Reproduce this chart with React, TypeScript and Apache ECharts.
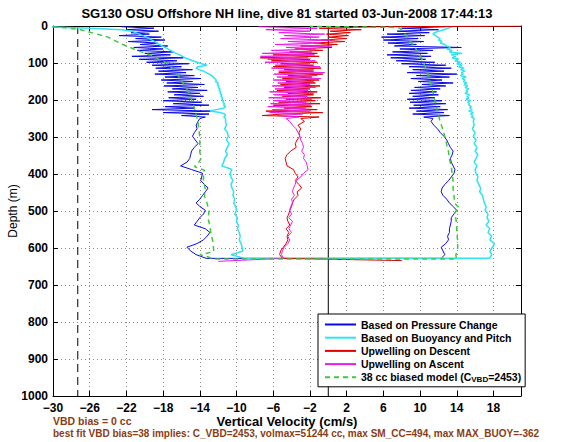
import React, { useEffect, useRef } from 'react';
import * as echarts from 'echarts';

const FONT = '"Liberation Sans", Arial, Helvetica, sans-serif';

const titleText = 'SG130 OSU Offshore NH line, dive 81 started 03-Jun-2008 17:44:13';
const xName = 'Vertical Velocity (cm/s)';
const yName = 'Depth (m)';
const note1 = 'VBD bias = 0 cc';
const note2 = 'best fit VBD bias=38 implies: C_VBD=2453, volmax=51244 cc, max SM_CC=494, max MAX_BUOY=-362';

const nameBlue = 'Based on Pressure Change';
const nameCyan = 'Based on Buoyancy and Pitch';
const nameRed = 'Upwelling on Descent';
const nameMag = 'Upwelling on Ascent';
const nameModel = '38 cc biased model (CVBD=2453)';

const xTicksMin = -30;
const xMax = 21;
const xInterval = 4;
const yMin = 0;
const yMax = 1000;
const yInterval = 100;

const vbdLimitVel = -27.3;
const zeroVel = 0;

// depth grids (m)
const noisyDepths = [2, 6, 10, 14, 18, 22, 26, 30, 34, 38, 42, 46, 50, 54, 58, 62, 66, 70, 74, 78, 82, 86, 90, 94, 98, 102, 106, 110, 114, 118, 122, 126, 130, 134, 138, 142, 146, 150, 154, 158, 162, 166, 170, 174, 178, 182, 186, 190, 194, 198, 202, 206, 210, 214, 218, 222, 226, 230, 234, 238, 242, 246, 250];
const smoothDepths = [258, 268, 278, 288, 298, 308, 318, 328, 338, 348, 358, 368, 378, 388, 398, 408, 418, 428, 438, 448, 458, 468, 478, 488, 498, 508, 518, 528, 538, 548, 558, 568, 578, 588, 598, 608, 618, 628];

// Based on Pressure Change
const blueDescTop = [-22.5, -19.0, -22.0, -18.5, -21.5, -19.5, -22.8, -18.2, -21.0, -17.8,
  -21.8, -18.6, -20.5, -17.5, -21.2, -18.0, -20.8, -16.9, -20.0, -17.2,
  -21.4, -15.8, -20.6, -16.5, -19.8, -15.2, -19.2, -16.0, -18.8, -14.8,
  -18.5, -15.5, -18.9, -14.6, -17.8, -13.9, -18.2, -14.8, -17.6, -13.5,
  -17.9, -14.2, -17.0, -13.2, -17.5, -14.0, -16.8, -13.6, -17.4, -14.4,
  -18.0, -13.8, -16.9, -13.0, -17.8, -14.6, -19.2, -12.6, -18.0, -13.0,
  -16.0, -13.4, -14.0];
const blueDescDeep = [-14.2, -14.4, -14.3, -14.6, -14.8, -14.5, -14.2, -14.6, -14.9, -15.0,
  -15.1, -15.4, -16.1, -14.9, -13.7, -13.8, -13.9, -13.5, -13.1, -13.4,
  -13.7, -14.0, -14.4, -14.0, -13.4, -13.6, -14.0, -14.3, -14.6, -13.4,
  -12.9, -13.2, -13.6, -14.3, -15.4, -15.0, -14.4, -13.3];
const blueAscDeep = [11.2, 11.5, 11.9, 12.2, 12.6, 12.9, 13.1, 13.3, 13.6, 13.5,
  13.3, 13.4, 13.6, 13.8, 13.7, 13.4, 13.1, 12.7, 12.4, 12.3,
  12.5, 12.9, 13.2, 13.6, 14.0, 13.7, 13.4, 13.4, 13.3, 13.2,
  13.2, 13.0, 13.1, 12.8, 12.3, 12.5, 12.7, 12.3];
const blueAscTop = [12.8, 8.0, 12.0, 7.5, 11.0, 6.4, 10.5, 5.8, 9.8, 6.0,
  10.4, 6.5, 9.6, 7.2, 14.5, 7.8, 11.4, 7.0, 10.8, 6.4,
  11.2, 6.8, 10.6, 7.4, 11.6, 8.0, 12.8, 8.8, 13.4, 9.2,
  12.6, 8.6, 14.0, 9.6, 13.2, 9.0, 12.4, 9.8, 13.6, 10.2,
  12.8, 9.4, 12.2, 9.0, 11.8, 8.8, 12.0, 9.2, 11.6, 8.6,
  12.4, 8.9, 12.8, 9.3, 12.2, 8.8, 13.0, 9.6, 12.6, 9.2,
  13.2, 10.4, 11.4];

// Based on Buoyancy and Pitch
const cyanDescTop = [-31, -26, -22.5, -21.4, -21.0, -20.6, -20.2, -19.8, -19.5, -19.2,
  -18.9, -18.7, -18.4, -18.1, -17.8, -17.5, -17.2, -16.9, -16.6, -16.2,
  -15.9, -15.6, -15.2, -14.8, -14.3, -13.8, -13.2, -14.2, -14.4, -14.1,
  -13.6, -13.3, -13.0, -12.7, -12.5, -12.4, -12.2, -12.3, -12.0, -12.1,
  -11.9, -12.0, -11.8, -11.9, -11.7, -11.8, -11.6, -11.7, -11.5, -11.6,
  -11.4, -11.5, -11.3, -11.4, -11.2, -11.4, -12.2, -12.9, -11.8, -11.3,
  -11.2, -11.4, -11.2];
const cyanDescDeep = [-11.2, -11.1, -11.3, -11.0, -10.9, -11.1, -10.8, -11.0, -11.2, -11.0,
  -11.3, -11.4, -11.6, -10.5, -10.7, -10.6, -10.4, -10.6, -10.5, -10.3,
  -10.4, -10.2, -10.3, -10.1, -10.0, -10.2, -9.9, -10.0, -9.8, -9.9,
  -9.7, -9.6, -9.7, -9.5, -9.4, -9.3, -10.6, -9.1];
const cyanAscDeep = [15.8, 15.9, 15.7, 16.0, 15.8, 16.1, 15.9, 16.2, 16.0, 16.3,
  16.1, 15.9, 16.2, 16.0, 16.1, 16.3, 16.2, 16.4, 16.6, 16.5,
  16.8, 16.9, 17.0, 17.2, 17.1, 17.4, 17.3, 17.5, 17.2, 17.6,
  17.4, 17.8, 17.6, 18.1, 17.9, 17.6, 17.8, 17.6];
const cyanAscTop = [13.5, 13.0, 12.6, 12.0, 11.6, 11.4, 11.7, 11.9, 12.2, 12.0,
  12.4, 12.2, 12.7, 12.9, 13.3, 12.9, 13.5, 13.2, 14.6, 13.4,
  13.9, 13.5, 14.2, 13.8, 14.4, 14.0, 14.6, 14.2, 14.8, 14.4,
  14.9, 14.5, 14.7, 14.4, 15.0, 14.6, 14.9, 14.7, 15.1, 14.8,
  15.2, 14.9, 15.3, 15.0, 15.2, 14.9, 15.4, 15.1, 15.3, 15.0,
  15.5, 15.2, 15.4, 15.3, 15.6, 15.4, 15.7, 15.3, 15.8, 15.5,
  15.8, 15.6, 15.9];

// Upwelling on Descent
const redSurface = [24, 0];
const redDescTop = [5.4, -1.0, 3.6, 0.2, 2.4, -0.2, 2.2, 0.0, 2.0, -0.8,
  1.8, -1.6, 1.0, -3.0, 0.4, -3.6, -0.6, -4.2, -1.2, -6.0,
  -1.0, -7.4, -2.0, -6.2, -1.2, -5.2, -1.6, -6.0, -0.8, -4.8,
  -1.6, -5.4, -0.6, -4.4, -1.8, -5.0, -1.0, -4.6, -1.4, -5.2,
  -0.9, -4.8, -2.0, -5.6, -1.2, -4.4, -1.6, -5.0, -0.8, -4.6,
  -1.4, -5.4, -0.9, -6.0, -1.8, -4.8, -1.2, -6.8, -0.6, -5.0,
  -7.2, -1.0, -3.0];
const redDescDeep = [-2.6, -3.3, -3.0, -3.2, -3.1, -3.4, -3.6, -3.5, -4.1, -4.5,
  -4.7, -4.6, -4.5, -3.8, -3.6, -3.3, -3.6, -3.2, -2.9, -3.4,
  -3.3, -3.7, -3.9, -4.0, -4.2, -4.3, -4.5, -4.4, -4.2, -4.6,
  -4.3, -4.5, -4.4, -4.6, -4.9, -5.2, -5.3, -5.0];
const redBottom = [8, 634];

// Upwelling on Ascent
const magBottom = [-12, 636];
const magAscDeep = [-4.2, -3.9, -3.5, -3.3, -3.1, -3.0, -2.8, -2.7, -2.9, -2.6,
  -2.7, -2.4, -2.3, -2.2, -2.7, -3.0, -3.5, -3.6, -3.8, -3.9,
  -3.7, -4.0, -3.9, -4.1, -4.2, -4.0, -4.3, -3.9, -4.1, -4.3,
  -4.0, -4.4, -4.2, -4.4, -4.8, -5.0, -5.1, -4.9];
const magAscTop = [-7.6, -1.2, -6.8, -2.0, -5.4, -0.4, -4.8, -1.0, -5.2, 0.3,
  -4.4, -0.8, -5.8, 0.4, -4.6, -1.4, -6.2, -1.8, -7.2, -1.5,
  -7.4, -2.2, -6.6, -1.4, -6.9, -2.0, -5.8, -0.9, -6.2, -1.6,
  -5.4, -0.4, -5.9, -1.2, -5.6, -0.8, -6.0, -1.6, -5.5, -2.0,
  -6.1, -1.4, -5.8, -2.2, -6.4, -1.6, -5.9, -2.3, -6.5, -1.8,
  -6.0, -2.4, -6.3, -1.9, -6.6, -2.5, -6.1, -2.0, -6.4, -2.8,
  -5.6, -3.2, -4.6];

// 38 cc biased model
const modelDescDepth = [1, 5, 10, 20, 30, 40, 50, 60, 70, 80, 90, 100, 120, 140, 160, 180, 200, 220, 240, 260, 280, 300, 320, 340, 360, 375, 380, 390, 400, 420, 440, 460, 480, 500, 520, 540, 560, 580, 600, 610, 618, 625, 630];
const modelDescVel = [-31, -28.5, -27, -25.5, -24.0, -23.2, -22.4, -21.4, -20.4, -19.2, -18.5, -17.6, -16.8, -16.2, -15.7, -15.2, -14.9, -14.6, -14.4, -14.2, -14.1, -14.0, -14.0, -14.0, -13.9, -14.3, -14.6, -13.5, -13.6, -13.6, -13.4, -13.5, -13.2, -13.0, -13.1, -12.9, -12.8, -12.6, -12.5, -12.5, -14.0, -13.0, -12.6];
const modelAscDepth = [1, 4, 8, 20, 30, 40, 50, 60, 80, 100, 120, 140, 160, 180, 200, 220, 240, 260, 280, 300, 320, 340, 360, 380, 400, 420, 440, 460, 480, 492, 500, 510, 520, 540, 560, 580, 600, 620, 630];
const modelAscVel = [-2, 7.6, 7.9, 8.3, 8.6, 8.9, 9.2, 9.5, 10.0, 10.4, 10.7, 11.0, 11.2, 11.4, 11.6, 11.8, 12.0, 12.2, 12.5, 12.7, 12.9, 13.1, 13.2, 13.4, 13.5, 13.6, 13.6, 13.7, 13.8, 14.3, 13.9, 13.7, 13.9, 14.0, 14.0, 14.1, 14.1, 13.9, 14.0];

const pairs = (vs: number[], ds: number[]) => vs.map((v, i) => [v, ds[i]]);
const rev = (a: number[][]) => a.slice().reverse();

const blueData = [
  ...pairs(blueDescTop, noisyDepths),
  ...pairs(blueDescDeep, smoothDepths),
  ...rev(pairs(blueAscDeep, smoothDepths)),
  ...rev(pairs(blueAscTop, noisyDepths)),
];
const cyanData = [
  ...pairs(cyanDescTop, noisyDepths),
  ...pairs(cyanDescDeep, smoothDepths),
  ...rev(pairs(cyanAscDeep, smoothDepths)),
  ...rev(pairs(cyanAscTop, noisyDepths)),
];
const redData = [redSurface, ...pairs(redDescTop, noisyDepths), ...pairs(redDescDeep, smoothDepths), redBottom];
const magData = [magBottom, ...rev(pairs(magAscDeep, smoothDepths)), ...rev(pairs(magAscTop, noisyDepths))];
const modelData = [...pairs(modelDescVel, modelDescDepth), ...rev(pairs(modelAscVel, modelAscDepth))];

const BROWN = '#8a3c14';
const C_BLUE = '#0a0ae0';
const C_CYAN = '#2fe4f0';
const C_RED = '#e00000';
const C_MAG = '#e81ee8';
const C_GREEN = '#3ec83e';

function lineSeries(name: string, data: number[][], color: string, width: number, type: any = 'solid', z = 3) {
  return {
    name,
    type: 'line',
    data,
    symbol: 'none',
    showSymbol: false,
    clip: true,
    z,
    lineStyle: { color, width, type },
    itemStyle: { color },
    emphasis: { disabled: true },
  };
}

export default function App() {
  const ref = useRef<HTMLDivElement>(null);
  useEffect(() => {
    if (!ref.current) return;
    const chart = echarts.init(ref.current, null, { renderer: 'svg' });
    const axisBase = {
      type: 'value',
      axisLine: { show: true, onZero: false, lineStyle: { color: '#000', width: 1 } },
      axisTick: { show: true, inside: true, length: 5, lineStyle: { color: '#000', width: 1 } },
    };
    const option: any = {
      animation: false,
      backgroundColor: '#fff',
      grid: { left: 53, top: 26, width: 468, height: 370, containLabel: false },
      xAxis: [
        {
          ...axisBase,
          position: 'bottom',
          min: xTicksMin,
          max: xMax,
          interval: xInterval,
          axisLabel: {
            show: true,
            showMaxLabel: false,
            margin: 6,
            color: '#000',
            fontFamily: FONT,
            fontWeight: 'bold',
            fontSize: 12,
            formatter: (v: number) => (v === xMax ? '' : String(v).replace('-', '\u2212')),
          },
          splitLine: { show: true, lineStyle: { color: '#8a8a8a', width: 1, type: [1, 3] } },
        },
        {
          ...axisBase,
          position: 'top',
          min: xTicksMin,
          max: xMax,
          interval: xInterval,
          axisLabel: { show: false },
          splitLine: { show: false },
        },
      ],
      yAxis: [
        {
          ...axisBase,
          position: 'left',
          inverse: true,
          min: yMin,
          max: yMax,
          interval: yInterval,
          axisLabel: {
            show: true,
            margin: 5,
            color: '#000',
            fontFamily: FONT,
            fontWeight: 'bold',
            fontSize: 12,
            formatter: (v: number) => String(v),
          },
          splitLine: { show: true, lineStyle: { color: '#8a8a8a', width: 1, type: [1, 3] } },
        },
        {
          ...axisBase,
          position: 'right',
          inverse: true,
          min: yMin,
          max: yMax,
          interval: yInterval,
          axisLabel: { show: false },
          splitLine: { show: false },
        },
      ],
      legend: {
        data: [nameBlue, nameCyan, nameRed, nameMag, nameModel],
        orient: 'vertical',
        left: 318,
        top: 314,
        itemWidth: 31,
        itemHeight: 12,
        itemGap: 0.2,
        padding: [4, 4, 3, 6],
        backgroundColor: '#fff',
        borderColor: '#000',
        borderWidth: 1,
        borderRadius: 0,
        selectedMode: false,
        z: 10,
        itemStyle: { opacity: 0, borderWidth: 0 },
        formatter: (name: string) => (name === nameModel ? '38 cc biased model (C{sub|VBD}=2453)' : name),
        textStyle: {
          fontFamily: FONT,
          fontWeight: 'bold',
          fontSize: 10.5,
          color: '#000',
          lineHeight: 13,
          rich: {
            sub: { fontFamily: FONT, fontWeight: 'bold', fontSize: 8, lineHeight: 13, verticalAlign: 'bottom', padding: [5, 0, 0, 0] },
          },
        },
      },
      graphic: [
        { type: 'text', x: 287, y: 13, style: { text: titleText, font: `bold 13px ${FONT}`, fill: '#000', textAlign: 'center', textVerticalAlign: 'middle' } },
        { type: 'text', x: 287, y: 421, style: { text: xName, font: `bold 13px ${FONT}`, fill: '#000', textAlign: 'center', textVerticalAlign: 'middle' } },
        { type: 'text', x: 13, y: 211, rotation: Math.PI / 2, style: { text: yName, font: `12px ${FONT}`, fill: '#000', textAlign: 'center', textVerticalAlign: 'middle' } },
        { type: 'text', x: 53, y: 421, style: { text: note1, font: `bold 10.5px ${FONT}`, fill: BROWN, textAlign: 'left', textVerticalAlign: 'middle' } },
        { type: 'text', x: 53, y: 433, style: { text: note2, font: `bold 10px ${FONT}`, fill: BROWN, textAlign: 'left', textVerticalAlign: 'middle' } },
      ],
      series: [
        lineSeries('vbdLimit', [[vbdLimitVel, yMin], [vbdLimitVel, yMax]], '#000', 1, [8, 5], 2),
        lineSeries('zeroLine', [[zeroVel, yMin], [zeroVel, yMax]], '#000', 1, 'solid', 2),
        lineSeries(nameBlue, blueData, C_BLUE, 1),
        lineSeries(nameCyan, cyanData, C_CYAN, 1.5),
        lineSeries(nameRed, redData, C_RED, 1),
        lineSeries(nameMag, magData, C_MAG, 1),
        lineSeries(nameModel, modelData, C_GREEN, 1.5, [5, 4]),
      ],
    };
    chart.setOption(option);
    return () => chart.dispose();
  }, []);
  return <div ref={ref} style={{ position: 'absolute', left: 0, top: 0, width: 568, height: 442 }} />;
}
